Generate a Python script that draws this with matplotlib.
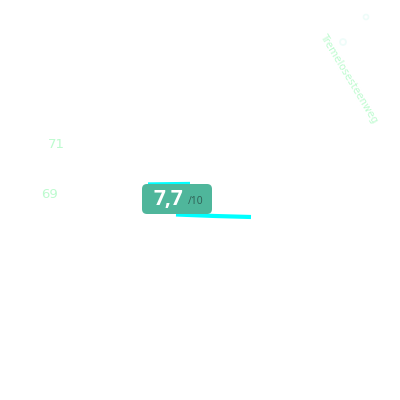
import matplotlib
matplotlib.use('Agg')
import matplotlib.pyplot as plt
from matplotlib.patches import FancyBboxPatch, Circle

# map coordinates are image pixels
road_top_x = [148, 190]
road_top_y = [184, 183.5]
road_bottom_x = [176, 215, 251]
road_bottom_y = [214.5, 216, 217]

house_numbers = ['71', '69']
house_x = [56, 50]
house_y = [144.5, 194.5]

street_name = 'Tremelosesteenweg'
score = '7,7'
score_max = '/10'

pale_green = '#bdfbcf'

fig = plt.figure(figsize=(4, 4), dpi=100)
ax = fig.add_axes([0, 0, 1, 1])
ax.set_xlim(0, 400)
ax.set_ylim(400, 0)
ax.axis('off')

ax.plot(road_top_x, road_top_y, color='#00ffff', lw=2.4, solid_capstyle='butt', zorder=1)
ax.plot(road_bottom_x, road_bottom_y, color='#00ffff', lw=3, solid_capstyle='butt', zorder=1)

box = FancyBboxPatch((142, 184), 70, 30, boxstyle='round,pad=0,rounding_size=5',
                     fc='#4fb69b', ec='none', zorder=2)
ax.add_patch(box)
ax.text(153.5, 200, score, color='white', fontsize=15, fontweight='bold',
        family='Open Sans', va='center', ha='left', zorder=3)
ax.text(188, 201, score_max, color='#2f5f55', fontsize=7.5, family='Open Sans',
        va='center', ha='left', zorder=3)

for label, x, y in zip(house_numbers, house_x, house_y):
    ax.text(x, y, label, color=pale_green, fontsize=9.5, ha='center', va='center')

ax.text(349, 78.5, street_name, color=pale_green, fontsize=7.4, rotation=-59,
        rotation_mode='anchor', ha='center', va='center')

# faint poi markers, top right
ax.add_patch(Circle((366, 17), 2.5, fc='none', ec='#eefcf9', lw=1.2))
ax.add_patch(Circle((343, 42), 3, fc='none', ec='#eefcf9', lw=1.2))

fig.savefig('out.png', dpi=100)
